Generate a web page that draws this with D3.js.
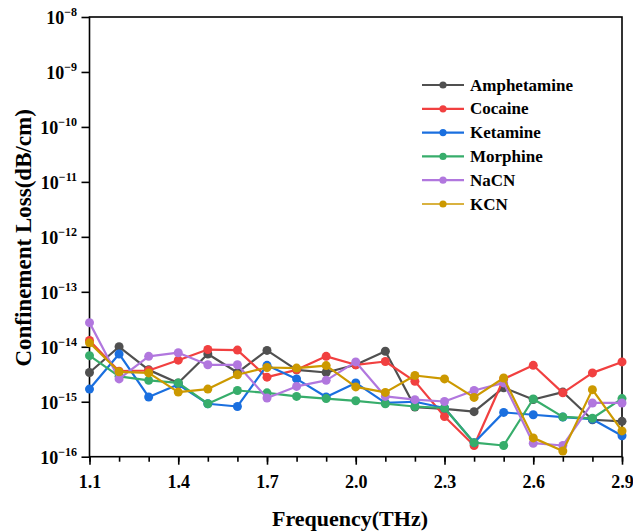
<!DOCTYPE html>
<html>
<head>
<meta charset="utf-8">
<script src="https://cdn.jsdelivr.net/npm/d3@7"></script>
<style>
  html, body { margin: 0; padding: 0; background: #fff; }
  svg { display: block; font-family: "Liberation Serif", "Times New Roman", serif; font-weight: bold; }
</style>
</head>
<body>
<svg id="chart" width="633" height="531"></svg>
<script>
// Frequency points (THz)
const FREQ = [1.1, 1.2, 1.3, 1.4, 1.5, 1.6, 1.7, 1.8, 1.9, 2.0,
              2.1, 2.2, 2.3, 2.4, 2.5, 2.6, 2.7, 2.8, 2.9];

// Confinement loss (dB/cm)
const AMPHETAMINE = [3.4e-15, 1.0e-14, 3.8e-15, 2.2e-15, 7.4e-15, 3.4e-15, 8.6e-15, 3.8e-15, 3.4e-15, 4.7e-15,
                     8.3e-15, 8.0e-16, 7.4e-16, 6.6e-16, 1.8e-15, 1.1e-15, 1.5e-15, 4.7e-16, 4.4e-16];
const COCAINE     = [1.3e-14, 3.6e-15, 3.7e-15, 5.7e-15, 8.9e-15, 8.7e-15, 2.8e-15, 3.8e-15, 6.7e-15, 4.7e-15,
                     5.4e-15, 2.35e-15, 5.4e-16, 1.6e-16, 2.6e-15, 4.6e-15, 1.45e-15, 3.35e-15, 5.3e-15];
const KETAMINE    = [1.7e-15, 7.4e-15, 1.22e-15, 2.05e-15, 9.2e-16, 8.2e-16, 4.6e-15, 2.6e-15, 1.22e-15, 2.2e-15,
                     9.5e-16, 1.0e-15, 7.7e-16, 1.8e-16, 6.4e-16, 5.8e-16, 5.25e-16, 4.8e-16, 2.4e-16];
const MORPHINE    = [6.9e-15, 2.9e-15, 2.45e-15, 2.2e-15, 9.2e-16, 1.6e-15, 1.45e-15, 1.25e-15, 1.14e-15, 1.04e-15,
                     9.2e-16, 8.2e-16, 7.7e-16, 1.8e-16, 1.6e-16, 1.12e-15, 5.3e-16, 5.0e-16, 1.14e-15];
const NACN        = [2.75e-14, 2.6e-15, 6.7e-15, 7.8e-15, 4.7e-15, 4.7e-15, 1.17e-15, 1.9e-15, 2.45e-15, 5.3e-15,
                     1.25e-15, 1.09e-15, 1.01e-15, 1.6e-15, 2.2e-15, 1.76e-16, 1.6e-16, 9.5e-16, 9.5e-16];
const KCN         = [1.18e-14, 3.5e-15, 3.35e-15, 1.5e-15, 1.7e-15, 3.1e-15, 4.2e-15, 4.1e-15, 4.55e-15, 1.86e-15,
                     1.48e-15, 3.0e-15, 2.6e-15, 1.2e-15, 2.7e-15, 2.2e-16, 1.27e-16, 1.66e-15, 2.95e-16];

const SERIES_NAMES = ["Amphetamine", "Cocaine", "Ketamine", "Morphine", "NaCN", "KCN"];
const SERIES_VALUES = [AMPHETAMINE, COCAINE, KETAMINE, MORPHINE, NACN, KCN];
const SERIES_COLORS = ["#505050", "#f14040", "#1a6fdf", "#37ad6b", "#b177de", "#cc9900"];

const X_MAJOR = [1.1, 1.4, 1.7, 2.0, 2.3, 2.6, 2.9];
const Y_EXP = [-16, -15, -14, -13, -12, -11, -10, -9, -8];

const svg = d3.select("#chart");

const plotL = 89.5, plotR = 622, plotT = 17, plotB = 456.7;

const x = d3.scaleLinear().domain([1.1, 2.9]).range([plotL, plotR]);
const y = d3.scaleLog().domain([1e-16, 1e-8]).range([plotB, plotT]);

// frame
svg.append("rect")
  .attr("x", plotL).attr("y", plotT)
  .attr("width", plotR - plotL).attr("height", plotB - plotT)
  .attr("fill", "none").attr("stroke", "#000").attr("stroke-width", 1.6);

// x axis: minor ticks at every point, major with labels
const xMinor = svg.append("g").attr("transform", `translate(0,${plotB})`);
xMinor.call(d3.axisBottom(x).tickValues(FREQ).tickSize(5).tickFormat(""));
xMinor.call((g) => {
  g.select(".domain").remove();
  g.selectAll(".tick line").attr("stroke-width", 1.6);
});
const xMajor = svg.append("g").attr("transform", `translate(0,${plotB})`);
xMajor.call(d3.axisBottom(x).tickValues(X_MAJOR).tickSize(8).tickPadding(11).tickFormat(d3.format(".1f")));
xMajor.call((g) => {
  g.select(".domain").remove();
  g.selectAll(".tick line").attr("stroke-width", 1.6);
  g.selectAll(".tick text")
    .attr("font-family", "Liberation Serif, Times New Roman, serif")
    .attr("font-weight", "bold")
    .attr("font-size", 18)
    .attr("fill", "#000");
});

// y axis ticks with superscript labels
const yAxis = svg.append("g").attr("transform", `translate(${plotL},0)`);
yAxis.call(d3.axisLeft(y).tickValues(Y_EXP.map((e) => Math.pow(10, e))).tickSize(8).tickFormat(""));
yAxis.call((g) => {
  g.select(".domain").remove();
  g.selectAll(".tick line").attr("stroke-width", 1.6);
});
const yLabels = svg.append("g");
Y_EXP.forEach((e) => {
  const t = yLabels.append("text")
    .attr("x", 77)
    .attr("y", y(Math.pow(10, e)) + 7)
    .attr("text-anchor", "end")
    .attr("font-size", 18);
  t.append("tspan").text("10");
  t.append("tspan").attr("font-size", 12).attr("dy", -8).text("\u2212" + Math.abs(e));
});

// axis titles
svg.append("text")
  .attr("transform", `translate(31,${(plotT + plotB) / 2 + 1}) rotate(-90)`)
  .attr("text-anchor", "middle")
  .attr("font-size", 23)
  .text("Confinement Loss(dB/cm)");

svg.append("text")
  .attr("x", 350)
  .attr("y", 526)
  .attr("text-anchor", "middle")
  .attr("font-size", 22)
  .text("Frequency(THz)");

// series
const line = d3.line().x((d) => x(d[0])).y((d) => y(d[1]));
const plot = svg.append("g");
SERIES_VALUES.forEach((vals, i) => {
  const pts = FREQ.map((f, j) => [f, vals[j]]);
  const g = plot.append("g");
  g.append("path")
    .datum(pts)
    .attr("fill", "none")
    .attr("stroke", SERIES_COLORS[i])
    .attr("stroke-width", 2.2)
    .attr("stroke-linejoin", "round")
    .attr("d", line);
  g.selectAll("circle")
    .data(pts)
    .join("circle")
    .attr("cx", (d) => x(d[0]))
    .attr("cy", (d) => y(d[1]))
    .attr("r", 4.5)
    .attr("fill", SERIES_COLORS[i]);
});

// legend
const legend = svg.append("g");
SERIES_NAMES.forEach((name, i) => {
  const ly = 85 + i * 23.8;
  const row = legend.append("g");
  row.append("line")
    .attr("x1", 422).attr("x2", 464)
    .attr("y1", ly).attr("y2", ly)
    .attr("stroke", SERIES_COLORS[i])
    .attr("stroke-width", i === 5 ? 1.3 : 2.2);
  row.append("circle")
    .attr("cx", 443).attr("cy", ly).attr("r", 3.6)
    .attr("fill", SERIES_COLORS[i]);
  row.append("text")
    .attr("x", 470).attr("y", ly + 5.5)
    .attr("font-size", 17)
    .text(name);
});
</script>
</body>
</html>
